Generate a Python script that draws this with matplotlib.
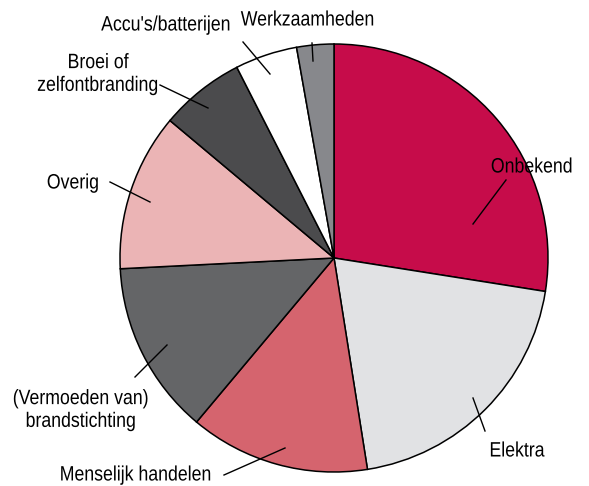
import matplotlib
matplotlib.use("Agg")
import matplotlib.pyplot as plt
from matplotlib import font_manager
from matplotlib.patheffects import AbstractPathEffect
from matplotlib.transforms import Affine2D

categories = ["Onbekend", "Elektra", "Menselijk handelen",
              "(Vermoeden van)\nbrandstichting", "Overig",
              "Broei of\nzelfontbranding", "Accu's/batterijen", "Werkzaamheden"]
values = [27.5, 20.0, 13.6, 13.1, 11.9, 6.4, 4.7, 2.8]
colors = ["#C60C4A", "#E1E2E4", "#D5646E", "#646567", "#EBB4B5",
          "#4B4B4D", "#FFFFFF", "#87888C"]

# layout (pixel coords, y from top): text centre, leader line start/end
label_pos = [(532, 167), (517, 451), (136, 475), (81, 410), (73, 183),
             (98, 74), (166, 25), (308, 20)]
leaders = [((506, 180), (473, 224)), ((473, 398), (485, 431)),
           ((224, 475), (285, 448)), ((135, 377), (167, 345)),
           ((110, 182), (150, 202)), ((160, 85), (208, 108)),
           ((243, 42), (270, 74)), ((312, 43), (313, 61))]


class Condense(AbstractPathEffect):
    """Horizontally condense each text line about its own centre."""
    def __init__(self, sx):
        super().__init__()
        self.sx = sx

    def draw_path(self, renderer, gc, tpath, affine, rgbFace=None):
        ext = tpath.get_extents()
        cx = (ext.x0 + ext.x1) / 2
        t = Affine2D().translate(-cx, 0).scale(self.sx, 1).translate(cx, 0) + affine
        renderer.draw_path(gc, tpath, t, rgbFace)


W, H = 589, 486
fams = [f.name for f in font_manager.fontManager.ttflist]
family = ["Liberation Sans Narrow", "Liberation Sans", "DejaVu Sans"]
family = [f for f in family if f in fams] or ["DejaVu Sans"]
sx = 1.0 if family[0] == "Liberation Sans Narrow" else 0.85

fig = plt.figure(figsize=(W / 100, H / 100), dpi=100)
ax = fig.add_axes([0, 0, 1, 1])

ax.pie(values, colors=colors, startangle=90, counterclock=False,
       center=(334, H - 258), radius=214, frame=True,
       wedgeprops=dict(edgecolor="black", linewidth=1.1))
ax.set_xlim(0, W)
ax.set_ylim(0, H)
ax.set_aspect("equal")
ax.axis("off")

for lab, (tx, ty), ((x1, y1), (x2, y2)) in zip(categories, label_pos, leaders):
    ax.plot([x1, x2], [H - y1, H - y2], color="black", lw=1.0, zorder=5)
    ax.text(tx, H - ty, lab, ha="center", va="center", fontsize=15,
            family=family, color="black", linespacing=1.25,
            path_effects=[Condense(sx)])

fig.savefig("out.png", dpi=100)
